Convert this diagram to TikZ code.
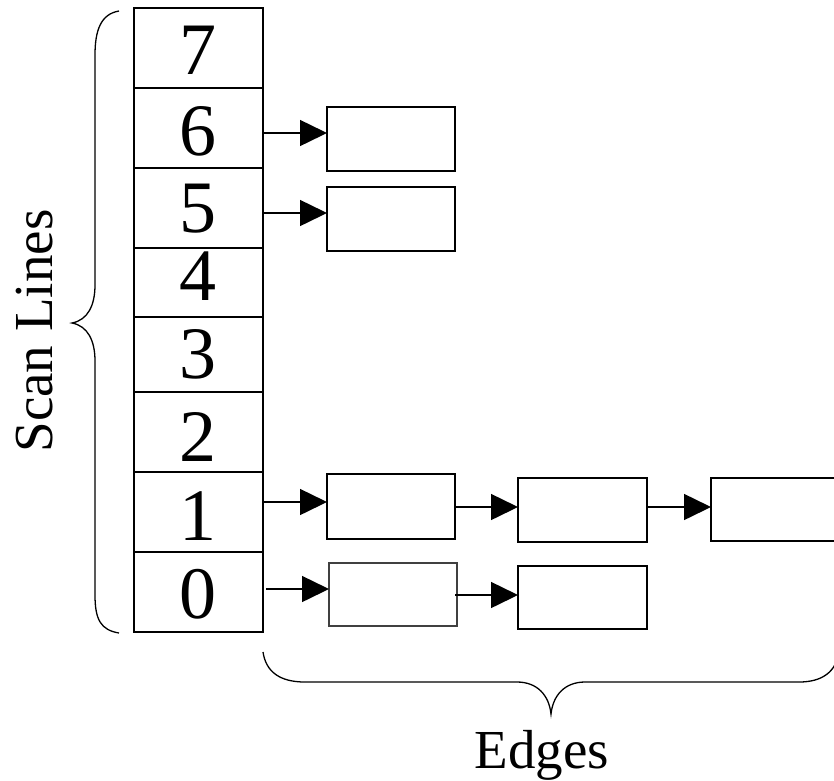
\documentclass[tikz,border=0pt]{standalone}
\usepackage{fontspec}
\setmainfont{Liberation Serif}
\usetikzlibrary{arrows.meta}
\begin{document}
\begin{tikzpicture}[x=1pt,y=-1pt,
  cell/.style={draw,line width=1.5pt,minimum width=129pt,inner sep=0pt,outer sep=0pt},
  digit/.style={inner sep=0pt,font=\fontsize{74}{80}\selectfont},
  edgebox/.style={draw,line width=1.5pt,minimum width=128pt,inner sep=0pt,outer sep=0pt},
  arr/.style={line width=1.5pt,-{Triangle[length=27pt,width=26pt]}},
  bracepath/.style={line width=1.3pt},
  lbl/.style={inner sep=0pt,font=\fontsize{55}{60}\selectfont}]
\useasboundingbox (0,0) rectangle (834,780);
% table
\node[cell,minimum height=80pt] (r7) at (198.5,48) {};
\node[cell,minimum height=80pt] (r6) at (198.5,128) {};
\node[cell,minimum height=80pt] (r5) at (198.5,208) {};
\node[cell,minimum height=69pt] (r4) at (198.5,282.5) {};
\node[cell,minimum height=75pt] (r3) at (198.5,354.5) {};
\node[cell,minimum height=80pt] (r2) at (198.5,432) {};
\node[cell,minimum height=80pt] (r1) at (198.5,512) {};
\node[cell,minimum height=80pt] (r0) at (198.5,592) {};
\node[digit] (d7) at (198,50) {7};
\node[digit] (d6) at (198,131) {6};
\node[digit] (d5) at (198,209) {5};
\node[digit] (d4) at (198,276) {4};
\node[digit] (d3) at (198,354) {3};
\node[digit] (d2) at (198,437) {2};
\node[digit] (d1) at (198,516) {1};
\node[digit] (d0) at (198,594) {0};
% edge boxes
\node[edgebox,minimum height=64pt] (e6) at (391,139) {};
\node[edgebox,minimum height=64pt] (e5) at (391,219) {};
\node[edgebox,minimum height=65pt] (e1a) at (391,506.5) {};
\node[edgebox,minimum width=129pt,minimum height=64pt] (e1b) at (582.5,510) {};
\node[edgebox,minimum width=129pt,minimum height=63pt] (e1c) at (775.5,509.5) {};
\node[edgebox,draw=black!75,line width=1.2pt,minimum height=63pt] (e0a) at (393,594.5) {};
\node[edgebox,minimum width=129pt,minimum height=63pt] (e0b) at (582.5,597.5) {};
% arrows
\coordinate (a6) at ([yshift=6pt]e6.west);
\coordinate (a5) at ([yshift=6pt]e5.west);
\coordinate (a1) at ([yshift=4.5pt]e1a.west);
\coordinate (a0) at ([yshift=5.5pt]e0a.west);
\coordinate (b1) at ([yshift=3pt]e1b.west);
\coordinate (c1) at ([yshift=2.5pt]e1c.west);
\coordinate (b0) at ([yshift=2.5pt]e0b.west);
\draw[arr] (r6.east |- a6) -- (a6);
\draw[arr] (r5.east |- a5) -- (a5);
\draw[arr] (r1.east |- a1) -- (a1);
\draw[arr] ([xshift=3pt]r0.east |- a0) -- (a0);
\draw[arr] (e1a.east |- b1) -- (b1);
\draw[arr] (e1b.east |- c1) -- (c1);
\draw[arr] ([xshift=-2pt]e0a.east |- b0) -- (b0);
% braces
\draw[bracepath] (119,11) .. controls (101,14) and (95,30) .. (95,55) -- (95,285)
  .. controls (95,305) and (88,320) .. (72,323)
  .. controls (88,326) and (95,341) .. (95,361) -- (95,595)
  .. controls (95,620) and (101,630) .. (119,633);
\draw[bracepath] (263,652) .. controls (266,672) and (280,682) .. (305,682) -- (517,682)
  .. controls (537,682) and (549,695) .. (551,714)
  .. controls (553,695) and (565,682) .. (585,682) -- (799,682)
  .. controls (822,682) and (836,672) .. (839,652);
% labels
\node[lbl,anchor=base] (edges) at (542,768) {Edges};
\node[lbl,anchor=base,rotate=90] (scan) at (52,331) {Scan Lines};
\end{tikzpicture}
\end{document}
